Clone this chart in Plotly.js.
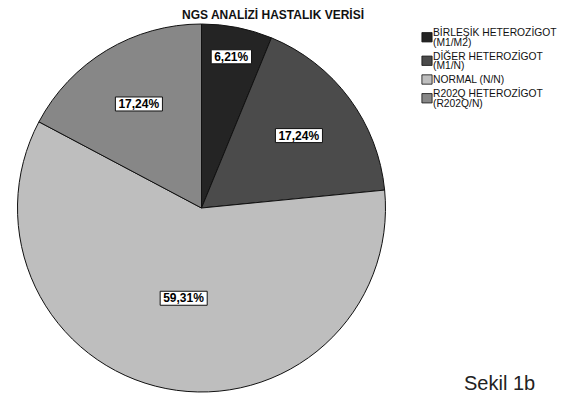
<!DOCTYPE html>
<html>
<head>
<meta charset="utf-8">
<script src="https://cdn.plot.ly/plotly-3.0.1.min.js"></script>
<style>html,body{margin:0;padding:0;background:#fff;}#chart{width:567px;height:396px;}</style>
</head>
<body>
<div id="chart"></div>
<script>
const categories = ["BİRLEŞİK HETEROZİGOT<br>(M1/M2)", "DİĞER HETEROZİGOT<br>(M1/N)", "NORMAL (N/N)", "R202Q HETEROZİGOT<br>(R202Q/N)"];
const counts = [9, 25, 86, 25];
const colors = ["#242424", "#4b4b4b", "#bebebe", "#878787"];
const chartTitle = "NGS ANALİZİ HASTALIK VERİSİ";
const figureNote = "Sekil 1b";

const trace = {
  type: "pie",
  labels: categories,
  values: counts,
  sort: false,
  direction: "clockwise",
  rotation: 0,
  marker: {colors: colors, line: {color: "#111", width: 1}},
  texttemplate: "%{percent:.2%}",
  textposition: "inside",
  insidetextorientation: "horizontal",
  textfont: {family: "Liberation Sans, Arial, sans-serif", size: 12, color: "#000", weight: "bold"},
  hoverinfo: "none",
  domain: {x: [16/567, 387/567], y: [1 - 392/396, 1 - 24/396]}
};

const layout = {
  width: 567, height: 396,
  margin: {l: 0, r: 0, t: 0, b: 0, autoexpand: false},
  paper_bgcolor: "#fff",
  separators: ",.",
  showlegend: true,
  title: {text: "<b>" + chartTitle + "</b>", x: 273/567, xanchor: "center", y: 1 - 15/396, yanchor: "middle",
          font: {family: "Liberation Sans, Arial, sans-serif", size: 12, color: "#111"}},
  legend: {x: 416/567, xanchor: "left", y: 1 - 22/396, yanchor: "top", valign: "middle",
           font: {family: "Liberation Sans, Arial, sans-serif", size: 10.3, color: "#111"},
           itemwidth: 30, tracegroupgap: 0, bgcolor: "rgba(0,0,0,0)"},
  annotations: [{text: figureNote, xref: "paper", yref: "paper", x: 462/567, xanchor: "left", y: 0, yanchor: "bottom",
                 showarrow: false, font: {family: "Liberation Sans, Arial, sans-serif", size: 20, color: "#222"}}]
};

// legend layout tuning (compact line spacing like the original)
const LEG_TEXT_X = 433, LEG_SWATCH_X = 427, LEG_FIRST_BASE = 36, LEG_LINE_H = 9.5, LEG_GAP = 4.5;

Plotly.newPlot("chart", [trace], layout, {staticPlot: true}).then(function(gd){
  // white boxes behind the percentage labels
  gd.querySelectorAll("g.slicetext text").forEach(function(t){
    const bb = t.getBBox();
    const rect = document.createElementNS("http://www.w3.org/2000/svg", "rect");
    rect.setAttribute("x", bb.x - 3);
    rect.setAttribute("y", bb.y);
    rect.setAttribute("width", bb.width + 6);
    rect.setAttribute("height", bb.height);
    rect.setAttribute("fill", "#fff");
    rect.setAttribute("stroke", "#111");
    rect.setAttribute("stroke-width", "1");
    const tr = t.getAttribute("transform");
    if (tr) rect.setAttribute("transform", tr);
    t.parentNode.insertBefore(rect, t);
  });

  // compact legend
  let base = LEG_FIRST_BASE;
  gd.querySelectorAll("g.legend g.traces").forEach(function(g){
    const m = g.parentNode.getCTM();
    g.setAttribute("transform", "translate(" + (-m.e) + "," + (base - m.f) + ")");
    const text = g.querySelector("text.legendtext");
    const lines = text.querySelectorAll("tspan.line");
    let n = 1;
    text.setAttribute("x", LEG_TEXT_X);
    text.setAttribute("y", 0);
    if (lines.length) {
      n = lines.length;
      lines.forEach(function(sp, k){
        sp.removeAttribute("dy");
        sp.setAttribute("x", LEG_TEXT_X);
        sp.setAttribute("y", k * LEG_LINE_H);
      });
    }
    const c = -3.5 + (n - 1) * LEG_LINE_H / 2;
    g.querySelectorAll("path.legendpie").forEach(function(p){
      p.setAttribute("transform", "translate(" + LEG_SWATCH_X + "," + c + ") scale(0.85,0.78)");
    });
    base += n * LEG_LINE_H + LEG_GAP;
  });
});
</script>
</body>
</html>
